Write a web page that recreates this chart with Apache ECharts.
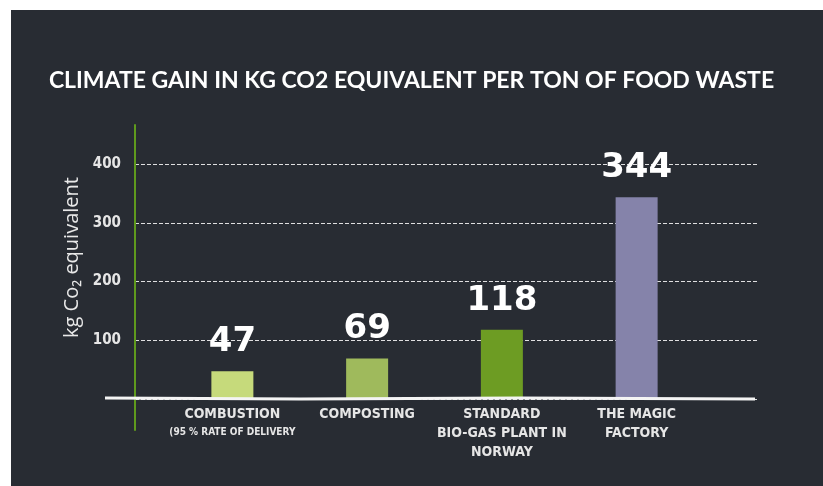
<!DOCTYPE html>
<html lang="en">
<head>
    <meta charset="utf-8">
    <title>Climate gain</title>
    <script src="https://cdn.jsdelivr.net/npm/echarts@6/dist/echarts.min.js"></script>
    <style>
        html, body { margin: 0; padding: 0; background: #ffffff; }
    </style>
</head>
<body>
<div id="main" style="width: 823px;height:486px;"></div>
<script type="text/javascript">
    var myChart = echarts.init(document.getElementById('main'));

    // data
    var categories = ['COMBUSTION', 'COMPOSTING', 'STANDARD\nBIO-GAS PLANT IN\nNORWAY', 'THE MAGIC\nFACTORY'];
    var subLabels = ['(95 % RATE OF DELIVERY', '', '', ''];
    var values = [47, 69, 118, 344];
    var barColors = ['#c6da7b', '#9fba5c', '#6d9c23', '#8583aa'];
    var yTicks = [100, 200, 300, 400];

    var yMin = -53, yMax = 467;
    var gridTop = 125, gridBottom = 56;
    // distance from the grid bottom up to the value 0
    var zeroOffset = (486 - gridTop - gridBottom) * (0 - yMin) / (yMax - yMin);
    var condensed = '"Liberation Sans Narrow", "DejaVu Sans Condensed", "Roboto", sans-serif';

    var barData = values.map(function (v, i) {
        return { value: v, itemStyle: { color: barColors[i] } };
    });

    option = {
        backgroundColor: '#ffffff',
        animation: false,
        title: {
            text: 'CLIMATE GAIN IN KG CO2 EQUIVALENT PER TON OF FOOD WASTE',
            left: 'center',
            top: 64,
            textStyle: {
                color: '#ffffff',
                fontFamily: 'Lato',
                fontWeight: 'bold',
                fontSize: 23
            }
        },
        grid: [
            { left: 135, right: 65, top: gridTop, bottom: gridBottom },
            { left: 165, right: 119, top: gridTop, bottom: gridBottom }
        ],
        xAxis: [{
            gridIndex: 0,
            type: 'category',
            data: categories,
            show: false
        }, {
            gridIndex: 1,
            type: 'category',
            data: categories,
            offset: -zeroOffset,
            axisLine: { show: false, onZero: false },
            axisTick: { show: false },
            axisLabel: {
                margin: 6,
                interval: 0,
                formatter: function (value, index) {
                    var s = value.split('\n').map(function (l) { return '{a|' + l + '}'; }).join('\n');
                    if (subLabels[index]) s += '\n{b|' + subLabels[index] + '}';
                    return s;
                },
                rich: {
                    a: { color: '#e6e6e6', fontFamily: condensed, fontWeight: 'bold', fontSize: 14, lineHeight: 19 },
                    b: { color: '#e6e6e6', fontFamily: condensed, fontWeight: 'bold', fontSize: 10, lineHeight: 17 }
                }
            }
        }],
        yAxis: [{
            gridIndex: 0,
            type: 'value',
            min: yMin,
            max: yMax,
            name: 'kg Co\u2082 equivalent',
            nameLocation: 'middle',
            nameRotate: 90,
            nameGap: 47,
            nameTextStyle: {
                color: '#e8e8e8',
                fontFamily: 'Open Sans',
                fontSize: 20,
                padding: [0, 0, 0, 40]
            },
            axisLine: { show: true, lineStyle: { color: '#5f9a1d', width: 2 } },
            axisTick: { show: false },
            axisLabel: {
                showMinLabel: false,
                showMaxLabel: false,
                margin: 14,
                color: '#e6e6e6',
                fontFamily: condensed,
                fontWeight: 'bold',
                fontSize: 15,
                formatter: function (v) { return yTicks.indexOf(v) >= 0 ? v : ''; }
            },
            splitLine: {
                show: true,
                showMinLine: false,
                showMaxLine: false,
                lineStyle: { color: 'rgba(255,255,255,0.85)', type: [4, 2], width: 1 }
            }
        }, {
            gridIndex: 1,
            type: 'value',
            min: yMin,
            max: yMax,
            show: false
        }],
        series: [{
            type: 'bar',
            xAxisIndex: 1,
            yAxisIndex: 1,
            data: barData,
            barWidth: 42,
            label: {
                show: true,
                position: 'top',
                distance: 12,
                color: '#ffffff',
                fontFamily: 'DejaVu Sans',
                fontWeight: 'bold',
                fontSize: 34
            }
        }],
        graphic: [{
            id: 'board',
            type: 'rect',
            z: -10,
            silent: true,
            shape: { x: 11, y: 10, width: 812, height: 476 },
            style: { fill: '#282c33' }
        }]
    };
    myChart.setOption(option);

    // chalk baseline across the chart at value 0
    var y0 = myChart.convertToPixel({ yAxisIndex: 0 }, 0);
    myChart.setOption({
        graphic: [{
            id: 'baseline',
            type: 'polyline',
            z: 100,
            silent: true,
            shape: { points: [[105, y0 - 1], [300, y0], [520, y0 - 1], [755, y0]] },
            style: { stroke: '#f4f4f4', lineWidth: 3, fill: null }
        }]
    });
</script>
</body>
</html>
